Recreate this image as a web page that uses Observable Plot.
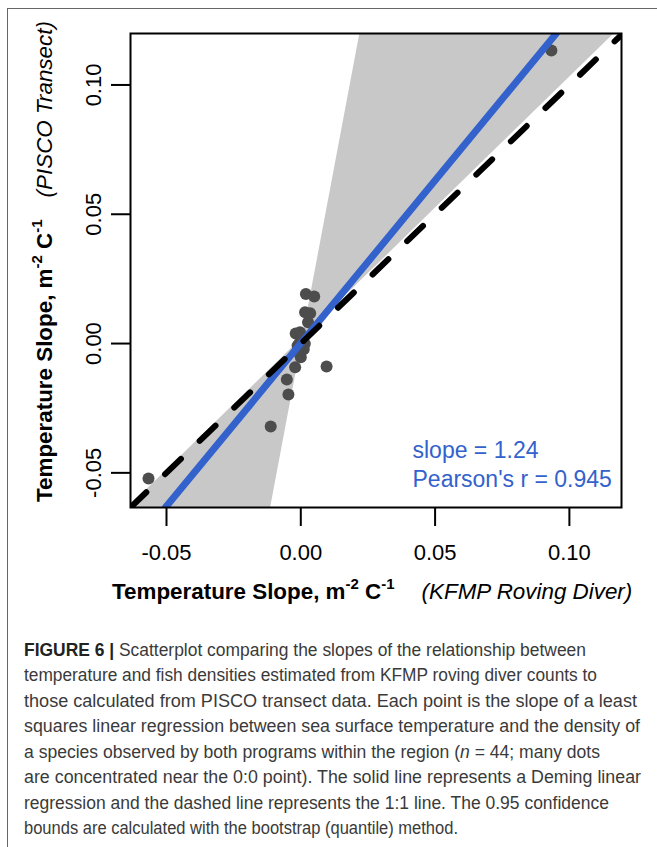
<!DOCTYPE html>
<html><head><meta charset="utf-8">
<script src="https://cdn.jsdelivr.net/npm/d3@7"></script>
<script src="https://cdn.jsdelivr.net/npm/@observablehq/plot@0.6"></script>
<style>
body{margin:0;background:#fff;}
#wrap{position:relative;width:657px;height:847px;overflow:hidden;background:#fff;}
#frame{position:absolute;left:7px;top:8px;width:700px;height:900px;border-top:1px solid #666;border-left:1px solid #666;}
#chart{position:absolute;left:0;top:0;}
#caption{position:absolute;left:0;top:620px;}
</style></head>
<body>
<div id="wrap">
<div id="frame"></div>
<div id="chart"></div>
<svg id="caption" width="657" height="227"></svg>
</div>
<script>
// ---- data ----
const kfmpSlope  = [0.0933, -0.0567, -0.0112, 0.0096, 0.0019, 0.0050, 0.0016, 0.0035, 0.0027, -0.0003, -0.0012, 0.0000, -0.0021, -0.0052, -0.0046, 0.0015, -0.0019, -0.0007, 0.0008, -0.0004, 0.0011, 0.0004];
const piscoSlope = [0.1133, -0.0522, -0.0321, -0.0089, 0.0192, 0.0182, 0.0121, 0.0117, 0.0082, 0.0044, -0.0008, -0.0053, -0.0092, -0.0139, -0.0197, -0.0001, 0.0039, -0.0035, 0.0012, 0.0003, -0.0022, 0.0025];

// bootstrap 0.95 confidence band (two bounding lines)
const ciX       = [-0.0634, 0.0007, 0.1194];
const ciShallow = [-0.0626, 0.0023, 0.1226];
const ciSteep   = [-0.3515, 0.0023, 0.6576];

// Deming regression line (ends at plot edges)
const demingX = [-0.0504, 0.0951];
const demingY = [-0.0634, 0.1199];

// 1:1 line
const oneToOneX = [-0.0634, 0.1194];
const oneToOneY = [-0.0634, 0.1194];

const xDomain = [-0.0634, 0.1194];
const yDomain = [-0.0634, 0.1199];
const xTicks = [-0.05, 0.00, 0.05, 0.10];
const yTicks = [-0.05, 0.00, 0.05, 0.10];

const annotText = ["slope = 1.24", "Pearson's r = 0.945"];

const captionLines = [
  [["FIGURE 6 | ", "b"], ["Scatterplot comparing the slopes of the relationship between", ""]],
  [["temperature and fish densities estimated from KFMP roving diver counts to", ""]],
  [["those calculated from PISCO transect data. Each point is the slope of a least", ""]],
  [["squares linear regression between sea surface temperature and the density of", ""]],
  [["a species observed by both programs within the region (", ""], ["n", "i"], [" = 44; many dots", ""]],
  [["are concentrated near the 0:0 point). The solid line represents a Deming linear", ""]],
  [["regression and the dashed line represents the 1:1 line. The 0.95 confidence", ""]],
  [["bounds are calculated with the bootstrap (quantile) method.", ""]]
];
const captionWidths = [562, 573, 613, 616, 576, 617, 585, 434];

const blue = "#3362cc";

// ---- build tables ----
const points = kfmpSlope.map((x, i) => ({x, y: piscoSlope[i]}));
const band = ciX.map((x, i) => ({x, a: ciShallow[i], b: ciSteep[i]}));
const deming = demingX.map((x, i) => ({x, y: demingY[i]}));
const oneToOne = oneToOneX.map((x, i) => ({x, y: oneToOneY[i]}));
const fmt = d => d.toFixed(2);

const svg = Plot.plot({
  width: 657, height: 615,
  marginLeft: 130, marginRight: 36, marginTop: 33, marginBottom: 108,
  x: {domain: xDomain},
  y: {domain: yDomain},
  style: {fontFamily: "'Liberation Sans', Arial, sans-serif", fontSize: "22px", color: "#000", background: "transparent", overflow: "visible"},
  marks: [
    Plot.areaY(band, {x: "x", y1: "a", y2: "b", fill: "#c8c8c8", clip: true}),
    Plot.dot(points, {x: "x", y: "y", r: 6, fill: "#4d4d4d", stroke: "none"}),
    Plot.line(deming, {x: "x", y: "y", stroke: blue, strokeWidth: 7, clip: true}),
    Plot.line(oneToOne, {x: "x", y: "y", stroke: "#000", strokeWidth: 6, strokeDasharray: "22,26", strokeLinecap: "round", clip: true}),
    Plot.frame({stroke: "#000", strokeWidth: 2}),
    Plot.axisX({ticks: xTicks, tickSize: 19, tickPadding: 18, tickFormat: fmt, label: null, fontSize: 22, strokeWidth: 2}),
    Plot.axisY({ticks: yTicks, tickSize: 19, tickPadding: 11, tickRotate: -90, tickFormat: fmt, label: null, fontSize: 22, strokeWidth: 2}),
    Plot.text([annotText.join("\n")], {text: d => d, frameAnchor: "bottom-right", textAnchor: "start", lineAnchor: "bottom", dx: -209, dy: -21, fill: blue, fontSize: 23, lineHeight: 1.25})
  ]
});
document.getElementById("chart").appendChild(svg);

// axis titles with superscripts and italic suffix
function addTitle(sel, suffix, gap) {
  const t = sel.append("text")
    .attr("text-anchor", "start")
    .attr("font-family", "'Liberation Sans', Arial, sans-serif")
    .attr("font-size", 22.4).attr("font-weight", "bold").attr("fill", "#000");
  t.append("tspan").text("Temperature Slope, m");
  t.append("tspan").attr("font-size", 15).attr("dy", -10).text("-2");
  t.append("tspan").attr("dy", 10).text(" C");
  t.append("tspan").attr("font-size", 15).attr("dy", -10).text("-1");
  t.append("tspan").attr("dy", 10).attr("dx", gap).attr("font-weight", "normal").attr("font-style", "italic").text(suffix);
  return t;
}
const s = d3.select(svg);
addTitle(s.append("g").attr("transform", "translate(112,599)"), "(KFMP Roving Diver)", 27);
addTitle(s.append("g").attr("transform", "translate(52,502) rotate(-90)"), "(PISCO Transect)", 22);

// caption
const cap = d3.select("#caption");
captionLines.forEach((parts, i) => {
  const t = cap.append("text")
    .attr("x", 24).attr("y", 35.5 + i * 25.5)
    .attr("font-family", "'Liberation Sans', Arial, sans-serif")
    .attr("font-size", 17.5).attr("fill", "#3a3a3a")
    .attr("textLength", captionWidths[i]).attr("lengthAdjust", "spacingAndGlyphs")
    .attr("xml:space", "preserve").style("white-space", "pre");
  parts.forEach(([txt, st]) => {
    const sp = t.append("tspan").text(txt);
    if (st === "b") sp.attr("font-weight", "bold").attr("fill", "#222");
    if (st === "i") sp.attr("font-style", "italic");
  });
});
</script>
</body></html>
